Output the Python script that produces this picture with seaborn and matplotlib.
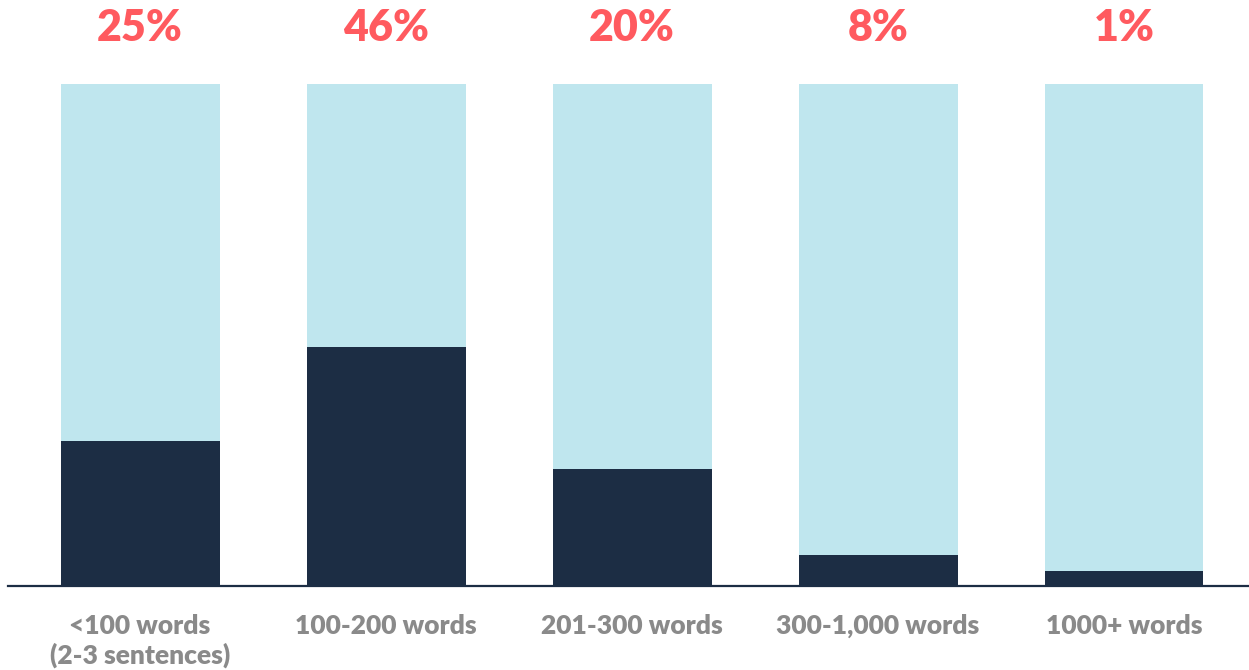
import numpy as np
import pandas as pd
import matplotlib
matplotlib.use("Agg")
import matplotlib.pyplot as plt
import seaborn as sns

# categories and values
categories = ["<100 words\n(2-3 sentences)", "100-200 words", "201-300 words",
              "300-1,000 words", "1000+ words"]
pct_labels = ["25%", "46%", "20%", "8%", "1%"]
dark_height = [28.9, 47.6, 23.3, 6.2, 3.0]   # drawn height of the dark part
full_height = [100, 100, 100, 100, 100]

light = "#bfe6ee"
dark = "#1c2d44"
red = "#ff5a5f"
grey = "#8a8a8a"

df = pd.DataFrame({"cat": categories, "full": full_height, "dark": dark_height})

sns.set_style("white")
plt.rcParams["font.family"] = ["Lato", "DejaVu Sans"]

fig = plt.figure(figsize=(12.49, 6.70), dpi=100)
ax = fig.add_axes([8 / 1249, (670 - 586) / 670, 1241 / 1249, 502 / 670])

sns.barplot(data=df, x="cat", y="full", color=light, width=0.646,
            saturation=1, linewidth=0, ax=ax)
sns.barplot(data=df, x="cat", y="dark", color=dark, width=0.646,
            saturation=1, linewidth=0, ax=ax)

ax.set_xlim(-0.537, 4.508)
ax.set_ylim(0, 100)
ax.set_xlabel("")
ax.set_ylabel("")
ax.set_yticks([])
ax.tick_params(axis="x", length=0, pad=20, labelsize=19, labelcolor=grey)
for t in ax.get_xticklabels():
    t.set_fontweight("heavy")
    t.set_linespacing(1.2)
    t.set_verticalalignment("top")

for i, lab in enumerate(pct_labels):
    ax.text(i, 111.2, lab, ha="center", va="center", fontsize=31,
            fontweight="heavy", color=red, clip_on=False)

sns.despine(ax=ax, left=True, top=True, right=True)
ax.spines["bottom"].set_color(dark)
ax.spines["bottom"].set_linewidth(1.6)

plt.savefig("out.png", dpi=100)
